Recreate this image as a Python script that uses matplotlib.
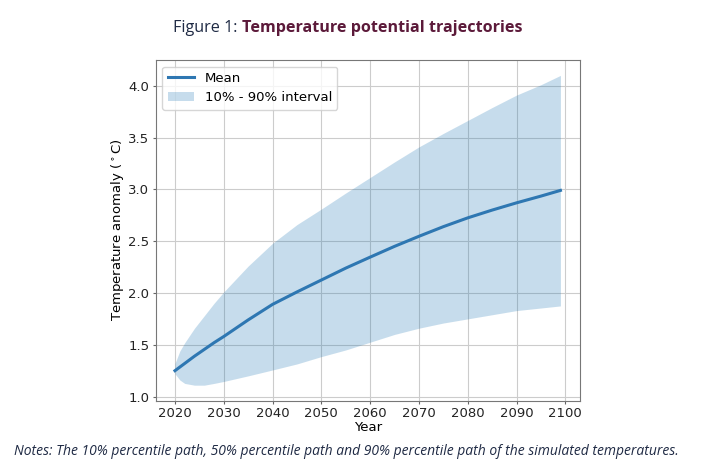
import matplotlib
matplotlib.use("Agg")
import matplotlib.pyplot as plt

# data
years = [2020, 2021, 2022, 2024, 2026, 2028, 2030, 2035, 2040, 2045, 2050,
         2055, 2060, 2065, 2070, 2075, 2080, 2085, 2090, 2095, 2099]
mean = [1.25, 1.285, 1.32, 1.39, 1.455, 1.52, 1.58, 1.74, 1.89, 2.01, 2.125,
        2.24, 2.346, 2.45, 2.547, 2.64, 2.725, 2.80, 2.87, 2.935, 2.99]
p90 = [1.32, 1.44, 1.52, 1.66, 1.78, 1.90, 2.01, 2.26, 2.48, 2.66, 2.81,
       2.965, 3.115, 3.265, 3.41, 3.54, 3.665, 3.79, 3.91, 4.01, 4.10]
p10 = [1.22, 1.16, 1.127, 1.11, 1.11, 1.127, 1.146, 1.20, 1.257, 1.315, 1.386,
       1.45, 1.525, 1.60, 1.66, 1.71, 1.75, 1.79, 1.83, 1.855, 1.875]

fig = plt.figure(figsize=(7.02, 4.63), dpi=100)
ax = fig.add_axes([0.2218, 0.1346, 0.604, 0.736])

ax.fill_between(years, p10, p90, color='#1f77b4', alpha=0.25,
                linewidth=0, label='10% - 90% interval')
ax.plot(years, mean, color='#2e77b2', lw=2.2, label='Mean')

ax.set_xticks(range(2020, 2101, 10))
ax.set_yticks([1.0, 1.5, 2.0, 2.5, 3.0, 3.5, 4.0])
ax.tick_params(labelsize=9.5, colors='#222222', color='#666666',
               length=2.5, pad=2)
ax.grid(True, color='#cccccc', lw=0.8)
ax.set_axisbelow(True)
for s in ax.spines.values():
    s.set_color('#777777')
ax.set_xlabel('Year', fontsize=9.5, labelpad=1)
ax.set_ylabel(r'Temperature anomaly ($^\circ$C)', fontsize=9.5, labelpad=2)

handles, labels = ax.get_legend_handles_labels()
ax.legend(handles[::-1], labels[::-1], loc='upper left', fontsize=9.5,
          handlelength=2.0)

# title in two pieces: plain + bold maroon
t1 = fig.text(0, 0.94, 'Figure 1: ', fontsize=11.6, family='Open Sans',
              color='#1f2a44', va='center')
t2 = fig.text(0, 0.94, 'Temperature potential trajectories', fontsize=11.6,
              family='Open Sans', weight='bold', color='#5c1a3a', va='center')
fig.canvas.draw()
r = fig.canvas.get_renderer()
w1 = t1.get_window_extent(r).width / fig.bbox.width
w2 = t2.get_window_extent(r).width / fig.bbox.width
x0 = 0.495 - (w1 + w2) / 2
t1.set_x(x0)
t2.set_x(x0 + w1)

fig.text(0.494, 0.024, 'Notes: The 10% percentile path, 50% percentile path and '
         '90% percentile path of the simulated temperatures.',
         fontsize=10, family='Open Sans', style='italic', color='#1f2a44',
         ha='center', va='center')

fig.savefig('out.png', dpi=100)
